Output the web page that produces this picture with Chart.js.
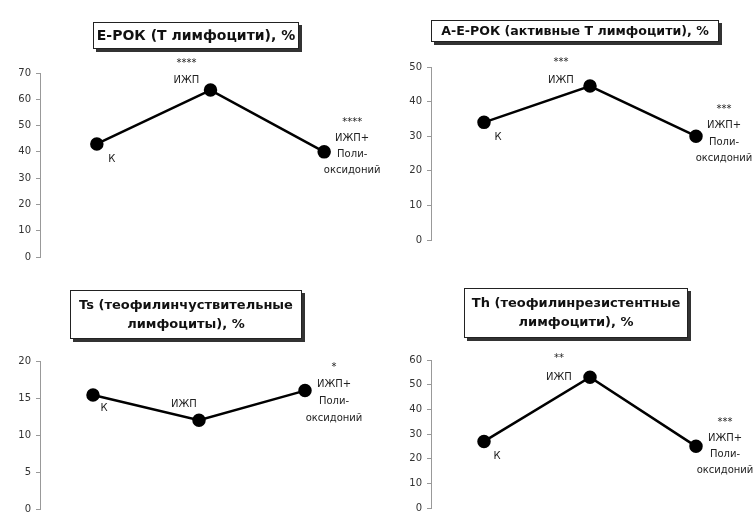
<!DOCTYPE html>
<html>
<head>
<meta charset="utf-8">
<script src="https://cdn.jsdelivr.net/npm/chart.js@4.4.1/dist/chart.umd.min.js"></script>
<style>
  body { margin: 0; width: 753px; height: 517px; overflow: hidden; background: #fff; position: relative; font-family: "DejaVu Sans", sans-serif; }
  canvas { position: absolute; }
  .title { position: absolute; background: #fff; border: 1px solid #222; box-shadow: 3px 3px 0 #333; font-weight: bold; color: #111; text-align: center; line-height: 19px; box-sizing: border-box; white-space: nowrap; }
</style>
</head>
<body>
<canvas id="chart1" width="441" height="231" style="left:0px;top:38px"></canvas>
<canvas id="chart2" width="418" height="220" style="left:391px;top:32px"></canvas>
<canvas id="chart3" width="418" height="195" style="left:0px;top:326px"></canvas>
<canvas id="chart4" width="418" height="195" style="left:391px;top:325px"></canvas>

<div class="title" style="left:93px;top:22px;width:206px;height:27px;font-size:14px;line-height:25px">Е-РОК (Т лимфоцити), %</div>
<div class="title" style="left:431px;top:20px;width:288px;height:22px;font-size:12.6px;line-height:20px">А-Е-РОК (активные Т лимфоцити), %</div>
<div class="title" style="left:70px;top:290px;width:232px;height:49px;font-size:13px;padding-top:4px">Ts (теофилинчуствительные<br>лимфоциты), %</div>
<div class="title" style="left:464px;top:288px;width:224px;height:50px;font-size:13px;padding-top:4px">Th (теофилинрезистентные<br>лимфоцити), %</div>

<script>
// categories (x positions of the three groups)
var groups = ['К', 'ИЖП', 'ИЖП+Полиоксидоний'];

// values
var eRokValues = [43, 63.5, 40];
var aeRokValues = [34, 44.5, 30];
var tsValues = [15.4, 12, 16];
var thValues = [27, 53, 25];

// y axis ranges
var eRokMax = 70, eRokStep = 10;
var aeRokMax = 50, aeRokStep = 10;
var tsMax = 20, tsStep = 5;
var thMax = 60, thStep = 10;

// text next to each point
var eRokLabels = [['К'], ['****', 'ИЖП'], ['****', 'ИЖП+', 'Поли-', 'оксидоний']];
var aeRokLabels = [['К'], ['***', 'ИЖП'], ['***', 'ИЖП+', 'Поли-', 'оксидоний']];
var tsLabels = [['К'], ['ИЖП'], ['*', 'ИЖП+', 'Поли-', 'оксидоний']];
var thLabels = [['К'], ['**', 'ИЖП'], ['***', 'ИЖП+', 'Поли-', 'оксидоний']];

//Plugin that writes the label lines near every point: [dx, dy of first line, line spacing]
var pointLabels = {
    id: 'pointLabels',
    afterDatasetsDraw: function(chart, args, opts) {
        var ctx = chart.ctx;
        var pts = chart.getDatasetMeta(0).data;
        ctx.save();
        ctx.font = '10px "DejaVu Sans", sans-serif';
        ctx.fillStyle = '#222';
        ctx.textAlign = 'center';
        ctx.textBaseline = 'middle';
        for (i = 0; i < pts.length; i++) {
            var lines = opts.lines[i];
            var off = opts.offsets[i];
            for (j = 0; j < lines.length; j++) {
                ctx.fillText(lines[j], pts[i].x + off[0], pts[i].y + off[1] + j * off[2]);
            }
        }
        ctx.restore();
    }
};

function makeChart(id, values, max, step, labels, offsets) {
    return new Chart(document.getElementById(id), {
        type: 'line',
        data: {
            labels: groups,
            datasets: [{
                data: values,
                borderColor: '#000',
                borderWidth: 2.5,
                pointBackgroundColor: '#000',
                pointBorderColor: '#000',
                pointRadius: 5.5,
                tension: 0
            }]
        },
        options: {
            responsive: false,
            animation: false,
            layout: { padding: { top: 35, bottom: 12, left: 0, right: 60 } },
            plugins: {
                legend: { display: false },
                tooltip: { enabled: false },
                pointLabels: { lines: labels, offsets: offsets }
            },
            scales: {
                x: { display: false, offset: true },
                y: {
                    min: 0,
                    max: max,
                    afterFit: function(axis) { axis.width = 40; },
                    border: { display: true, color: '#999', width: 1 },
                    grid: { drawOnChartArea: false, tickLength: 4, color: '#999' },
                    ticks: { stepSize: step, color: '#333', padding: 5, font: { size: 10, family: '"DejaVu Sans", sans-serif' } }
                }
            }
        },
        plugins: [pointLabels]
    });
}

let eRokChart = makeChart('chart1', eRokValues, eRokMax, eRokStep, eRokLabels,
    [[15, 15, 0], [-24, -27, 17], [28, -29, 16]]);
let aeRokChart = makeChart('chart2', aeRokValues, aeRokMax, aeRokStep, aeRokLabels,
    [[14, 15, 0], [-29, -24, 18], [28, -27, 16.5]]);
let tsChart = makeChart('chart3', tsValues, tsMax, tsStep, tsLabels,
    [[11, 13, 0], [-15, -16, 0], [29, -23, 17]]);
let thChart = makeChart('chart4', thValues, thMax, thStep, thLabels,
    [[13, 15, 0], [-31, -19, 19], [29, -24, 16]]);
</script>
</body>
</html>
